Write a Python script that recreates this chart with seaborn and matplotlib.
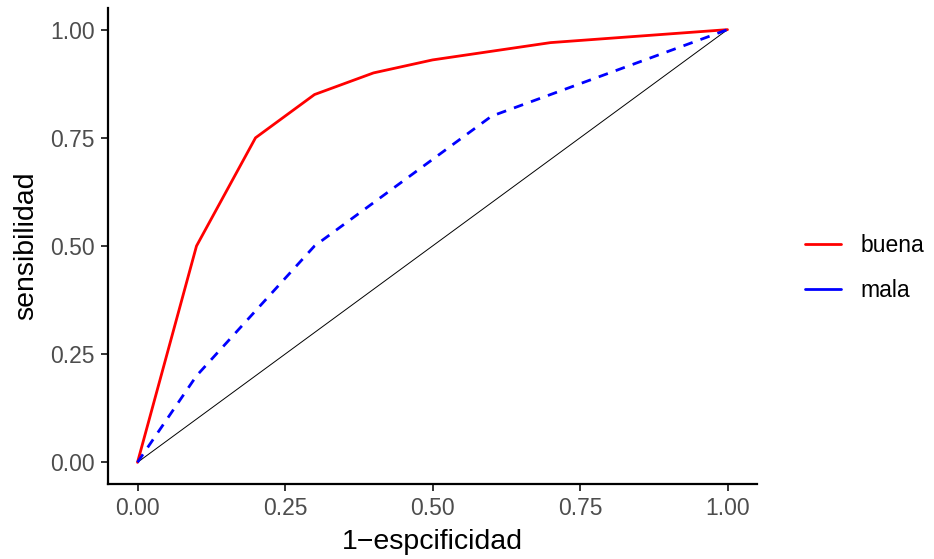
import matplotlib
matplotlib.use("Agg")
import matplotlib.pyplot as plt
from matplotlib.lines import Line2D
import seaborn as sns
import pandas as pd

# Data
buena_x = [0.0, 0.1, 0.2, 0.3, 0.4, 0.5, 0.7, 1.0]
buena_y = [0.0, 0.5, 0.75, 0.85, 0.9, 0.93, 0.97, 1.0]
mala_x = [0.0, 0.1, 0.3, 0.4, 0.5, 0.6, 0.7, 1.0]
mala_y = [0.0, 0.2, 0.5, 0.6, 0.7, 0.8, 0.85, 1.0]
diag_x = [0.0, 1.0]
diag_y = [0.0, 1.0]
groups = ["buena", "mala"]
ticks = [0.0, 0.25, 0.5, 0.75, 1.0]
tick_labels = ["0.00", "0.25", "0.50", "0.75", "1.00"]

df = pd.concat([
    pd.DataFrame({"x": buena_x, "y": buena_y, "grupo": "buena"}),
    pd.DataFrame({"x": mala_x, "y": mala_y, "grupo": "mala"}),
], ignore_index=True)

sns.set_style("white")
plt.rcParams["font.family"] = ["Liberation Sans", "DejaVu Sans"]

fig = plt.figure(figsize=(9.34, 5.59), dpi=100)
ax = fig.add_axes([108 / 934, 1 - 484 / 559, (757 - 108) / 934, (484 - 8) / 559])

colors = {"buena": "#FF0000", "mala": "#0000FF"}
ax.plot(diag_x, diag_y, color="black", lw=0.7, zorder=1)
sns.lineplot(data=df, x="x", y="y", hue="grupo", style="grupo",
             palette=colors, dashes={"buena": "", "mala": (3.5, 3)},
             estimator=None, sort=False, lw=2, legend=False, ax=ax, zorder=2)

ax.set_xlim(-0.05, 1.05)
ax.set_ylim(-0.05, 1.05)
ax.set_xticks(ticks)
ax.set_xticklabels(tick_labels)
ax.set_yticks(ticks)
ax.set_yticklabels(tick_labels)
ax.tick_params(axis="both", which="major", length=5, width=1.4, color="#333333",
               labelcolor="#4D4D4D", labelsize=16.5, pad=4.5, bottom=True, left=True)
for s in ["top", "right"]:
    ax.spines[s].set_visible(False)
for s in ["left", "bottom"]:
    ax.spines[s].set_color("black")
    ax.spines[s].set_linewidth(1.6)
ax.set_xlabel("1\u2212espcificidad", fontsize=20.5, color="black", labelpad=6)
ax.set_ylabel("sensibilidad", fontsize=20.5, color="black", labelpad=8)

handles = [Line2D([0], [0], color=colors[g], lw=2) for g in groups]
leg = fig.legend(handles, groups, loc="center left", bbox_to_anchor=(784 / 934, 1 - 268 / 559),
                 frameon=False, fontsize=16.5, handlelength=1.6, handletextpad=0.85,
                 labelspacing=1.0)
for t in leg.get_texts():
    t.set_color("black")

fig.savefig("out.png", dpi=100)
